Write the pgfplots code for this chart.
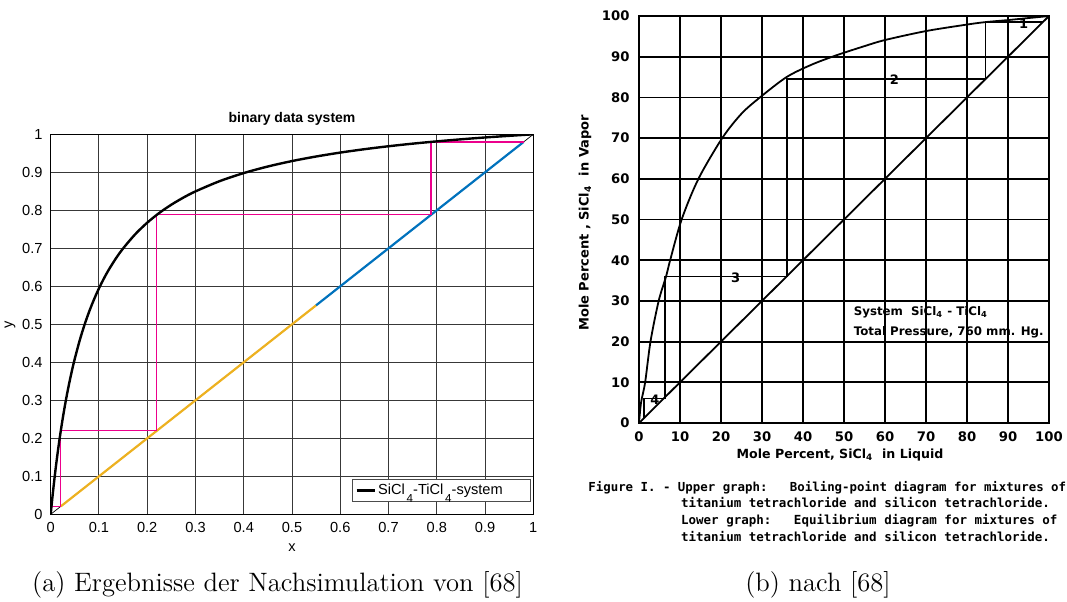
\documentclass[border=0pt]{standalone}
\usepackage{fontspec}
\usepackage{pgfplots}
\pgfplotsset{compat=1.18}
\newfontfamily\lsans{Liberation Sans}
\newfontfamily\dvsans{DejaVu Sans}
\newfontfamily\dvmono{DejaVu Sans Mono}
\definecolor{mlblue}{rgb}{0,0.447,0.741}
\definecolor{mlorange}{rgb}{0.929,0.694,0.125}
\newcommand{\lowfour}{\kern0.12em\raisebox{-0.57em}[0pt][0pt]{\fontsize{5.8}{6}\selectfont 4}}

\begin{document}
\begin{tikzpicture}
\useasboundingbox (0,0) rectangle (533.5pt,-300.5pt);

% ---------------- left: simulated McCabe-Thiele diagram ----------------
\begin{axis}[
  at={(25.35pt,-257.15pt)}, anchor=south west,
  scale only axis, width=241.3pt, height=190pt,
  xmin=0, xmax=1, ymin=0, ymax=1,
  xtick={0,0.1,0.2,0.3,0.4,0.5,0.6,0.7,0.8,0.9,1},
  ytick={0,0.1,0.2,0.3,0.4,0.5,0.6,0.7,0.8,0.9,1},
  grid=major, major grid style={black!78, line width=0.5pt},
  axis line style={black, line width=0.6pt},
  major tick length=0pt,
  tick label style={font=\lsans\fontsize{7.3}{8}\selectfont, /pgf/number format/assume math mode=true},
  xticklabel style={yshift=-0.6pt},
  yticklabel style={xshift=-0.6pt},
  legend style={at={(1,0)}, anchor=south east, xshift=-1.3pt, yshift=6pt,
    draw=black!70, line width=0.5pt, fill=white, inner xsep=1.5pt, inner ysep=1.2pt,
    font=\lsans\fontsize{7.3}{8}\selectfont,
    nodes={inner sep=1pt, anchor=west}},
  legend image code/.code={\draw[#1, line width=1.2pt] (0pt,0pt) -- (9.2pt,0pt);},
]
% diagonal and operating lines
\addplot[black, line width=0.35pt, forget plot] coordinates {(0,0) (1,1)};
\addplot[mlorange, line width=1.1pt, forget plot] coordinates {(0.0209,0.0209) (0.55,0.55)};
\addplot[mlblue, line width=1.1pt, forget plot] coordinates {(0.55,0.55) (0.98,0.98)};
% stages
\addplot[magenta, line width=0.6pt, forget plot] coordinates {
  (0.98,0.98) (0.788,0.98) (0.788,0.788) (0.2198,0.788) (0.2198,0.2198)
  (0.0209,0.2198) (0.0209,0.0209) (0.0016,0.0209) (0.0016,0.0016)};
% equilibrium curve
\addplot[black, line width=1.2pt, smooth] coordinates {
  (0,0) (0.001,0.01304) (0.002,0.02577) (0.004,0.05034) (0.006,0.0738) (0.008,0.0962)
  (0.01,0.1176) (0.0125,0.1432) (0.015,0.1674) (0.0175,0.1904) (0.02,0.2122)
  (0.025,0.2529) (0.03,0.2899) (0.035,0.3238) (0.04,0.3548) (0.045,0.3835)
  (0.05,0.4099) (0.06,0.4573) (0.07,0.4984) (0.08,0.5344) (0.09,0.5662)
  (0.1,0.5946) (0.11,0.6200) (0.12,0.6429) (0.135,0.6732) (0.15,0.6996)
  (0.175,0.7368) (0.2,0.7674) (0.225,0.7931) (0.25,0.8148) (0.275,0.8335)
  (0.3,0.8498) (0.35,0.8767) (0.4,0.8980) (0.45,0.9153) (0.5,0.9296)
  (0.55,0.9416) (0.6,0.9519) (0.65,0.9608) (0.7,0.9686) (0.75,0.9754)
  (0.8,0.9814) (0.85,0.9868) (0.9,0.9917) (0.95,0.9960) (1,1)};
\addlegendentry{\makebox[73.5pt][l]{SiCl\lowfour-TiCl\lowfour-system}}
\end{axis}

\node[font=\lsans\bfseries\fontsize{7}{8}\selectfont] at (146pt,-59.5pt) {binary data system};
\node[font=\lsans\fontsize{7.3}{8}\selectfont] at (146pt,-274pt) {x};
\node[font=\lsans\fontsize{7.3}{8}\selectfont, rotate=90] at (5pt,-162.5pt) {y};

% ---------------- right: published equilibrium diagram ----------------
\begin{axis}[
  at={(319.5pt,-211.5pt)}, anchor=south west,
  scale only axis, width=205pt, height=203.5pt,
  xmin=0, xmax=100, ymin=0, ymax=100,
  xtick={0,10,...,100}, ytick={0,10,...,100},
  grid=major, major grid style={black, line width=0.9pt},
  axis line style={black, line width=1pt},
  major tick length=0pt,
  clip=false,
  tick label style={font=\dvsans\bfseries\fontsize{6.6}{7}\selectfont, /pgf/number format/assume math mode=true},
  yticklabel style={xshift=-1.2pt},
  xticklabel style={yshift=-0.8pt},
]
\addplot[black, line width=0.9pt] coordinates {(0,0) (100,100)};
\addplot[black, line width=0.9pt, smooth] coordinates {
  (0,0) (0.5,5) (1.5,10) (2.8,20) (4.8,30) (6.6,36) (7.6,40) (10.4,50)
  (14.5,60) (20.3,70) (25,76) (29.5,80) (36,85) (42,88) (48,90.3)
  (55,92.6) (60,94.1) (70,96.3) (80,97.9) (84.5,98.5) (90,99.0) (95,99.5) (100,100)};
\addplot[black, line width=0.9pt] coordinates {
  (98.6,98.6) (84.5,98.6) (84.5,84.5) (36,84.5) (36,36)
  (6.3,36) (6.3,6) (1.2,6) (1.2,1.2)};
\node[font=\dvsans\bfseries\fontsize{6.5}{7}\selectfont] at (axis cs:93.8,98.2) {1};
\node[font=\dvsans\bfseries\fontsize{6.5}{7}\selectfont] at (axis cs:62.3,84.4) {2};
\node[font=\dvsans\bfseries\fontsize{6.5}{7}\selectfont] at (axis cs:23.6,35.8) {3};
\node[font=\dvsans\bfseries\fontsize{6.5}{7}\selectfont] at (axis cs:3.9,5.6) {4};
\node[font=\dvsans\bfseries\fontsize{5.9}{7}\selectfont, anchor=west, inner sep=0pt] at (axis cs:52.3,27.3) {System~~SiCl\textsubscript{4}~-~TiCl\textsubscript{4}};
\node[font=\dvsans\bfseries\fontsize{5.9}{7}\selectfont, anchor=west, inner sep=0pt] at (axis cs:52.3,22.4) {Total Pressure, 760 mm. Hg.};
\end{axis}

\node[font=\dvsans\bfseries\fontsize{6.5}{7}\selectfont, rotate=90] at (292.5pt,-111.5pt) {Mole Percent , SiCl\textsubscript{4} ~in Vapor};
\node[font=\dvsans\bfseries\fontsize{6.3}{7}\selectfont] at (420pt,-227.5pt) {Mole Percent, SiCl\textsubscript{4} ~in Liquid};

% figure legend text of the published diagram
\begin{scope}[every node/.style={font=\dvmono\bfseries\fontsize{6.25}{7}\selectfont, anchor=base west, inner sep=0pt}]
\node[font=\dvmono\bfseries\fontsize{6.2}{7}\selectfont] at (294pt,-245.5pt) {Figure~I.~-~Upper~graph:~~~Boiling-point~diagram~for~mixtures~of};
\node at (340.35pt,-253.5pt) {titanium~tetrachloride~and~silicon~tetrachloride.};
\node at (340.35pt,-262pt) {Lower~graph:~~~Equilibrium~diagram~for~mixtures~of};
\node at (340.35pt,-270.5pt) {titanium~tetrachloride~and~silicon~tetrachloride.};
\end{scope}

% sub-captions
\node[font=\fontsize{13.3}{15}\selectfont, anchor=base, inner sep=0pt] at (138.75pt,-295.8pt) {(a) Ergebnisse der Nachsimulation von [68]};
\node[font=\fontsize{13.3}{15}\selectfont, anchor=base, inner sep=0pt] at (409pt,-295.8pt) {(b) nach [68]};
\end{tikzpicture}
\end{document}
